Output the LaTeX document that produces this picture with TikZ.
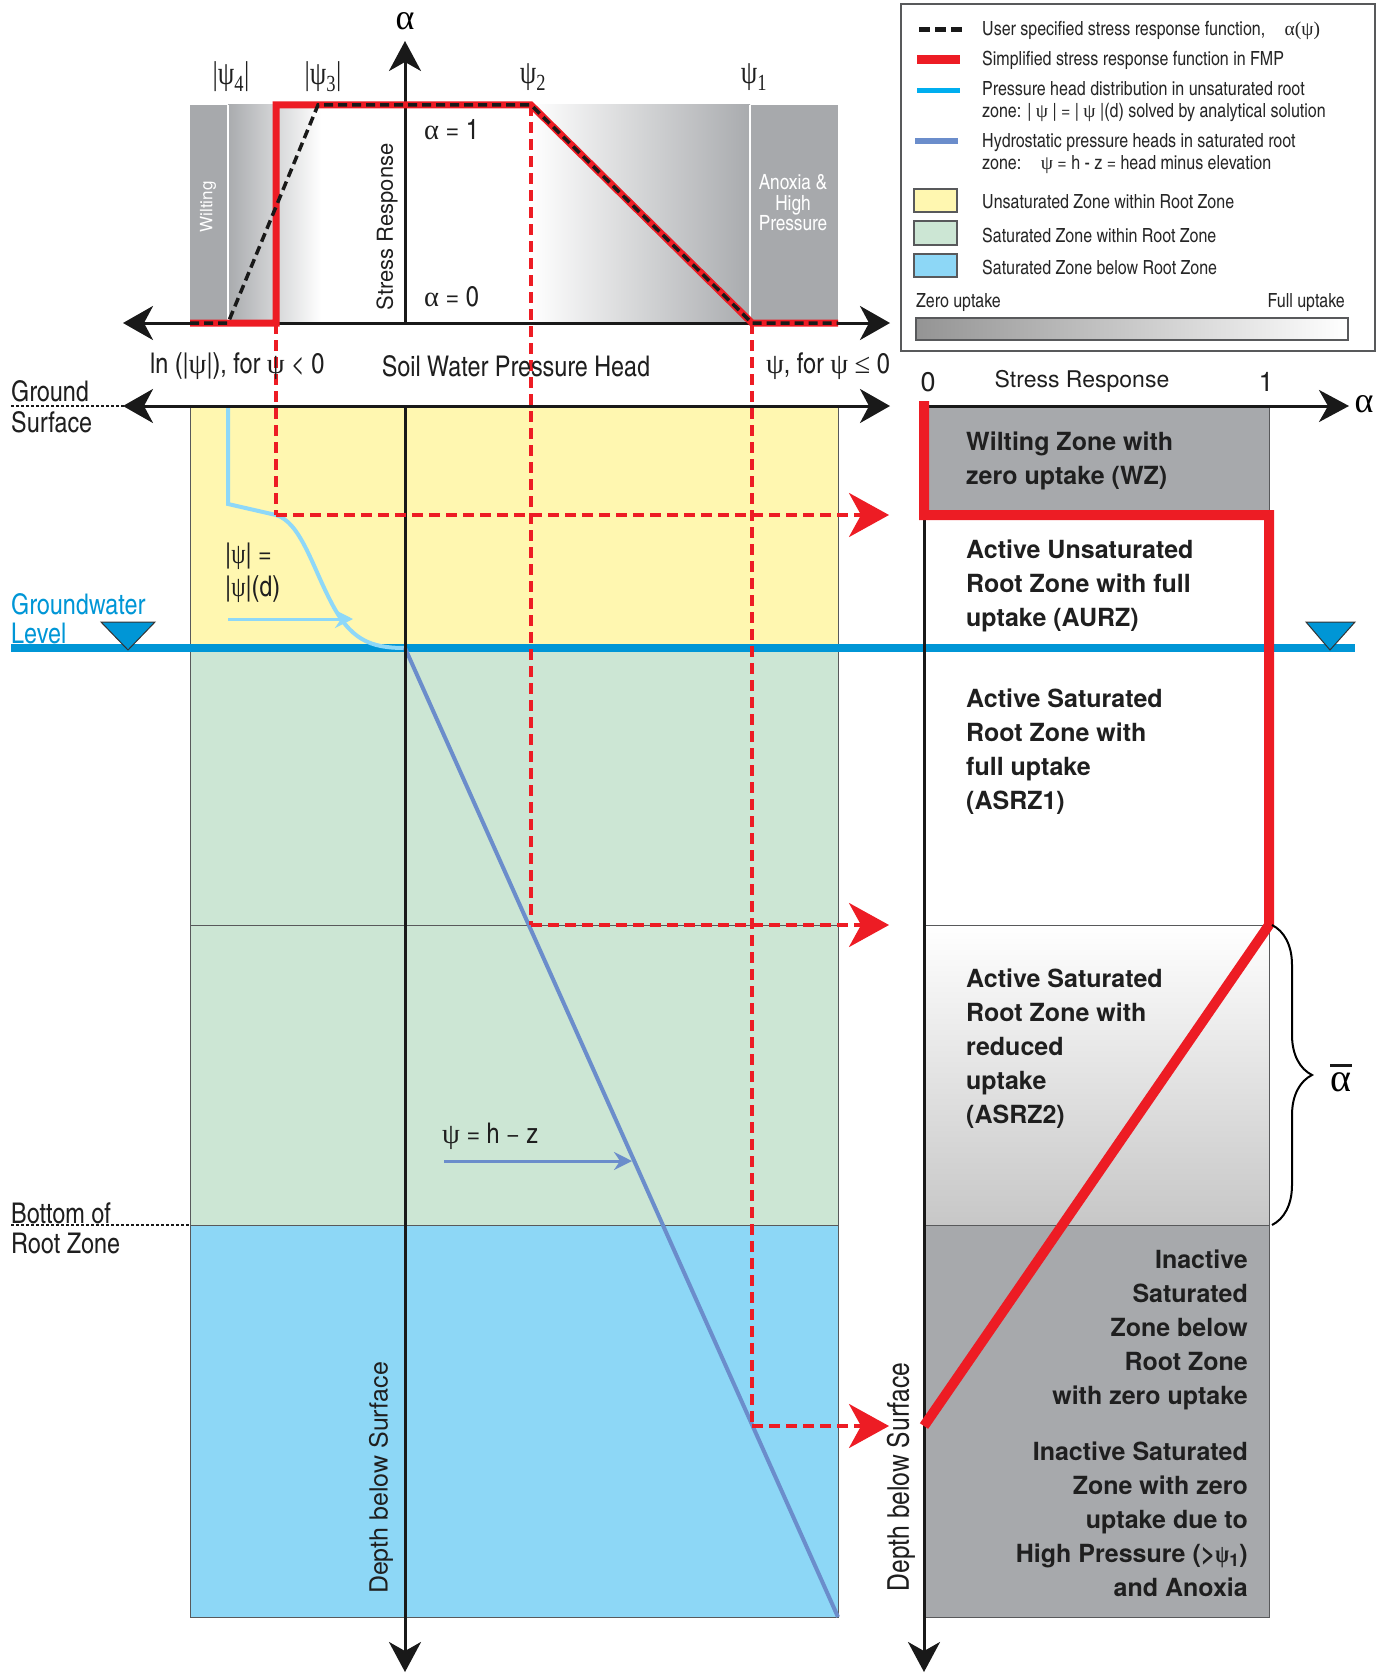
\documentclass[tikz,border=0pt]{standalone}
\usepackage{fontspec}
\setmainfont{TeX Gyre Heros}
\newfontfamily\cond{texgyreheroscn}[Extension=.otf, UprightFont=*-regular, BoldFont=*-bold]
\newfontfamily\grk{Liberation Serif}
\newfontfamily\grkc{Liberation Serif}[FakeStretch=0.8]
\usetikzlibrary{arrows.meta, positioning, decorations.pathreplacing}

\definecolor{fmpred}{HTML}{ED1C24}
\definecolor{gwblue}{HTML}{0096D6}
\definecolor{capblue}{HTML}{8ED8F8}
\definecolor{hydblue}{HTML}{6B8DCB}
\definecolor{legcyan}{HTML}{00AEEF}
\definecolor{unsat}{HTML}{FFF7B0}
\definecolor{satin}{HTML}{CCE6D4}
\definecolor{satbelow}{HTML}{8DD7F6}
\definecolor{stripgray}{HTML}{A7A9AC}
\definecolor{fadegray}{HTML}{A9ABAE}
\definecolor{edgegray}{HTML}{58595B}

\newcommand{\fsz}[2]{\fontsize{#1}{#2}\selectfont}
\newcommand{\psx}[1]{{\grkc ψ}\textsubscript{#1}}

\begin{document}
\begin{tikzpicture}[x=1pt, y=-1pt,
  axis/.style={line width=3pt, draw=black!90},
  dbl/.style={axis, {Stealth[length=30pt,width=34pt,inset=9pt]}-{Stealth[length=30pt,width=34pt,inset=9pt]}},
  sgl/.style={axis, -{Stealth[length=30pt,width=32pt,inset=9pt]}},
  fmp/.style={draw=fmpred, line width=7pt, line join=miter, miter limit=3},
  user/.style={draw=black!90, line width=3.5pt, dash pattern=on 9pt off 5pt},
  proj/.style={draw=fmpred, line width=3.5pt, dash pattern=on 11pt off 6pt},
  projtip/.style={proj, -{Stealth[length=40pt,width=44pt,inset=12pt]}},
  zoneline/.style={draw=edgegray, line width=1pt},
  marker/.style={draw=black!90, line width=2.5pt, dash pattern=on 2.5pt off 2.5pt},
  gw/.style={draw=gwblue, line width=7.5pt},
  tri/.style={fill=gwblue, draw=black!80, line width=1pt},
  lab/.style={font=\cond\fsz{28.5}{30}, inner sep=0pt, text=black!88},
  leg/.style={font=\cond\fsz{19.5}{22}, inner sep=0pt, anchor=west, text=black!85, align=left},
  zonetxt/.style={font=\bfseries\fsz{25}{34}, inner sep=0pt, text=black!88},
  psilab/.style={font=\grkc\fsz{33}{35}, inner sep=0pt, text=black!88},
  swatch/.style={draw=edgegray, line width=1.2pt}
]
  \useasboundingbox (0,0) rectangle (1390,1675);

  % key points
  \coordinate (p4)  at (228,323);
  \coordinate (p3)  at (276,323);
  \coordinate (p3u) at (318,105);
  \coordinate (p2)  at (531,105);
  \coordinate (p1)  at (752,323);
  \coordinate (gwo) at (405,648);
  \coordinate (bot) at (838,1617);
  \coordinate (k3)  at (276,515);
  \coordinate (k2)  at (531,925);
  \coordinate (k1)  at (752,1426);
  \coordinate (t3)  at (889,515);
  \coordinate (t2)  at (889,925);
  \coordinate (t1)  at (889,1426);

  % top chart background
  \fill[stripgray] (190,105) rectangle (228,323);
  \shade[left color=fadegray, right color=white] (228,105) rectangle (321,323);
  \shade[left color=white, right color=fadegray] (530,105) rectangle (750,323);
  \fill[stripgray] (750,105) rectangle (838,323);
  \draw[white, line width=1.5pt] (228,105) -- (228,323) (750,105) -- (750,323);

  % soil column
  \fill[unsat] (190,406) rectangle (838,648);
  \fill[satin] (190,648) rectangle (838,1225);
  \fill[satbelow] (190,1225) rectangle (838,1617);
  \draw[zoneline] (190,406) rectangle (838,1617);
  \draw[zoneline] (190,925) -- (838,925) (190,1225) -- (838,1225);

  % uptake column
  \fill[stripgray] (924,406) rectangle (1269,515);
  \shade[top color=white, bottom color=black!22] (924,925) rectangle (1269,1225);
  \fill[stripgray] (924,1225) rectangle (1269,1617);
  \draw[zoneline] (924,406) rectangle (1269,1617);
  \draw[zoneline] (924,925) -- (1269,925) (924,1225) -- (1269,1225);

  % surface markers and water table
  \draw[marker] (11,406) -- (125,406);
  \draw[marker] (11,1225) -- (190,1225);
  \draw[gw] (11,648) -- (1355,648);
  \draw[tri] (101,622) -- (155,622) -- (128,650) -- cycle;
  \draw[tri] (1306,622) -- (1355,622) -- (1330,650) -- cycle;

  % pressure head profiles
  \draw[capblue, line width=4pt] (228,406) -- (228,504) -- (276,515)
    .. controls (300,522) and (312,565) .. (330,600)
    .. controls (350,640) and (370,648) .. (gwo);
  \draw[hydblue, line width=4pt] (gwo) -- (bot);
  \coordinate (ca) at (228,619);
  \coordinate (cb) at (353,619);
  \draw[capblue, line width=3pt, -{Stealth[length=18pt,width=18pt,inset=6pt]}] (ca) -- (cb);
  \coordinate (ha) at (444,1161);
  \coordinate (hb) at (632,1161);
  \draw[hydblue, line width=3pt, -{Stealth[length=18pt,width=18pt,inset=6pt]}] (ha) -- (hb);

  % axes
  \draw[dbl] (123,323) -- (890,323);
  \draw[sgl] (405,323) -- (405,41);
  \draw[dbl] (123,406) -- (890,406);
  \draw[sgl] (405,406) -- (405,1672);
  \draw[sgl] (924,406) -- (1349,406);
  \draw[sgl] (924,406) -- (924,1672);

  % projections of the thresholds
  \draw[proj] (p3) -- (k3);
  \draw[proj] (p2) -- (k2);
  \draw[proj] (p1) -- (k1);
  \draw[projtip] (k3) -- (t3);
  \draw[projtip] (k2) -- (t2);
  \draw[projtip] (k1) -- (t1);

  % stress response functions
  \draw[fmp] (190,323) -- (p3) -- (276,105) -- (p2) -- (p1) -- (838,323);
  \draw[user] (190,323) -- (p4) -- (p3u) -- (p2) -- (p1) -- (838,323);
  \draw[fmp, line width=10pt] (924,401) -- (924,515) -- (1269,515) -- (1269,925) -- (924,1426);

  % average over reduced zone
  \draw[decorate, decoration={brace, amplitude=40pt, aspect=0.5}, line width=2pt] (1272,925) -- (1272,1225);
  \node[font=\grk\fsz{40}{42}, inner sep=0pt] (abar) at (1341,1082) {α};
  \draw[black!90, line width=3pt] ([yshift=7pt]abar.north west) -- ([yshift=7pt]abar.north east);

  % top chart labels
  \node[font=\grk\fsz{36}{38}, inner sep=0pt] (atop) at (405,21) {α};
  \node[psilab] (psi4) at (231,77) {|\psx{4}|};
  \node[psilab] (psi3) at (323,77) {|\psx{3}|};
  \node[psilab] (psi2) at (533,77) {\psx{2}};
  \node[psilab] (psi1) at (754,77) {\psx{1}};
  \node[font=\fsz{22}{24}, rotate=90, inner sep=0pt, text=black!88] (srtop) at (387,227) {Stress Response};
  \node[lab, anchor=west] (aone) at (424,130) {{\grk α} = 1};
  \node[lab, anchor=west] (azero) at (424,297) {{\grk α} = 0};
  \node[font=\fsz{17}{18}, rotate=90, text=white, inner sep=0pt] (wilt) at (208,207) {Wilting};
  \node[font=\cond\fsz{21}{20.5}, text=white, align=center, inner sep=0pt] (anox) at (793,203) {Anoxia \&\\High\\Pressure};
  \node[lab, anchor=west] (lnpsi) at (150,366) {ln (|{\grk ψ}|), for {\grk ψ} < 0};
  \node[lab] (swph) at (516,366) {Soil Water Pressure Head};
  \node[lab, anchor=east] (linpsi) at (890,366) {{\grk ψ}, for {\grk ψ} {\grk ≤} 0};

  % soil column labels
  \node[lab, anchor=west] (ground) at (11,391) {Ground};
  \node[lab, anchor=west] (surface) at (11,422) {Surface};
  \node[lab, anchor=west, text=gwblue] (gwl1) at (11,604) {Groundwater};
  \node[lab, anchor=west, text=gwblue] (gwl2) at (11,633) {Level};
  \node[lab, anchor=west] (brz1) at (11,1213) {Bottom of};
  \node[lab, anchor=west] (brz2) at (11,1243) {Root Zone};
  \node[lab, anchor=west] (capl1) at (225,556) {|{\grkc ψ}| =};
  \node[lab, anchor=west] (capl2) at (225,589) {|{\grkc ψ}|(d)};
  \node[lab, anchor=west] (hydl) at (442,1136) {{\grk ψ} = h − z};
  \node[font=\fsz{25}{27}, rotate=90, inner sep=0pt, text=black!88] (depthl) at (381,1478) {Depth below Surface};
  \node[font=\cond\fsz{30}{32}, rotate=90, inner sep=0pt, text=black!88] (depthr) at (901,1477) {Depth below Surface};

  % uptake column labels
  \node[font=\fsz{27}{29}, inner sep=0pt, text=black!88] (zero) at (928,382) {0};
  \node[font=\fsz{27}{29}, inner sep=0pt, text=black!88] (one) at (1266,382) {1};
  \node[font=\fsz{23}{25}, inner sep=0pt, text=black!88] (srright) at (1082,381) {Stress Response};
  \node[font=\grk\fsz{36}{38}, inner sep=0pt] (aright) at (1364,404) {α};
  \node[zonetxt, anchor=north west, align=left] (wz) at (966,432) {Wilting Zone with\\zero uptake (WZ)};
  \node[zonetxt, anchor=north west, align=left] (aurz) at (966,540) {Active Unsaturated\\Root Zone with full\\uptake (AURZ)};
  \node[zonetxt, anchor=north west, align=left] (asrz1) at (966,689) {Active Saturated\\Root Zone with\\full uptake\\(ASRZ1)};
  \node[zonetxt, anchor=north west, align=left] (asrz2) at (966,969) {Active Saturated\\Root Zone with\\reduced\\uptake\\(ASRZ2)};
  \node[zonetxt, anchor=north east, align=right] (isz1) at (1248,1250) {Inactive\\Saturated\\Zone below\\Root Zone\\with zero uptake};
  \node[zonetxt, anchor=north east, align=right] (isz2) at (1248,1442) {Inactive Saturated\\Zone with zero\\uptake due to\\High Pressure (>\psx{1})\\and Anoxia};

  % legend
  \draw[edgegray, line width=1.5pt] (901,4) rectangle (1375,351);
  \draw[black!90, line width=5pt, dash pattern=on 11pt off 5pt] (919,30) -- (962,30);
  \draw[fmpred, line width=9pt] (917,60) -- (960,60);
  \draw[legcyan, line width=5pt] (917,91) -- (960,91);
  \draw[hydblue, line width=5pt] (915,141) -- (958,141);
  \fill[unsat] (914,189) rectangle (957,212);
  \draw[swatch] (914,189) rectangle (957,212);
  \fill[satin] (914,221) rectangle (957,245);
  \draw[swatch] (914,221) rectangle (957,245);
  \fill[satbelow] (914,254) rectangle (957,277);
  \draw[swatch] (914,254) rectangle (957,277);
  \node[leg] (leg1) at (982,30) {User specified stress response function,\quad{\grk α(ψ)}};
  \node[leg] (leg2) at (982,60) {Simplified stress response function in FMP};
  \node[leg] (leg3) at (982,102) {Pressure head distribution in unsaturated root\\zone: | {\grk ψ} | = | {\grk ψ} |(d) solved by analytical solution};
  \node[leg] (leg4) at (982,154) {Hydrostatic pressure heads in saturated root\\zone:\quad{\grk ψ} = h - z = head minus elevation};
  \node[leg] (leg5) at (982,202) {Unsaturated Zone within Root Zone};
  \node[leg] (leg6) at (982,235) {Saturated Zone within Root Zone};
  \node[leg] (leg7) at (982,267) {Saturated Zone below Root Zone};
  \node[leg] (zup) at (916,303) {Zero uptake};
  \node[leg, anchor=east] (fup) at (1345,303) {Full uptake};
  \shade[left color=black!42, right color=white] (916,318) rectangle (1348,340);
  \draw[swatch] (916,318) rectangle (1348,340);
\end{tikzpicture}
\end{document}
